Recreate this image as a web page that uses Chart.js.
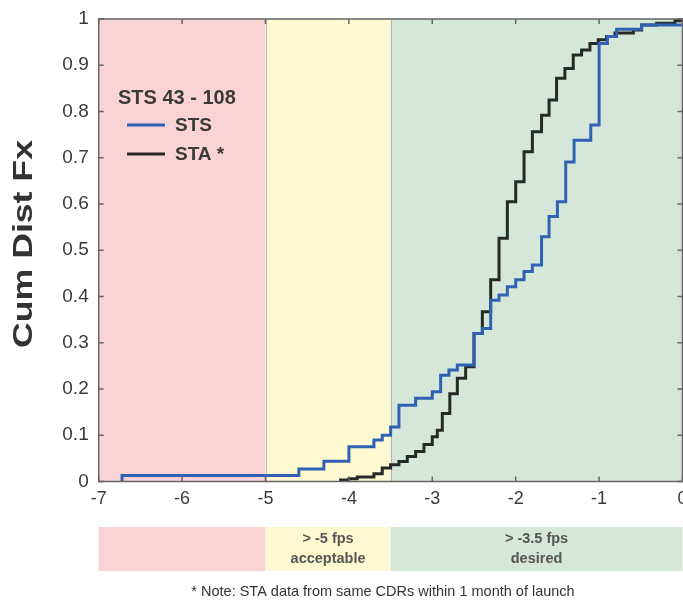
<!DOCTYPE html>
<html>
<head>
<meta charset="utf-8">
<script src="https://cdn.jsdelivr.net/npm/chart.js@4.4.0/dist/chart.umd.min.js"></script>
<style>
  html, body { margin: 0; padding: 0; background: #fff; }
</style>
</head>
<body>
<canvas id="cdfChart" width="683" height="600"></canvas>
<script>
// STS (blue) cumulative distribution steps
const stsX = [-6.72, -6.72, -4.6, -4.3, -4.0, -3.7, -3.6, -3.5, -3.4, -3.2, -3.0, -2.9, -2.8, -2.7,
              -2.5, -2.4, -2.3, -2.2, -2.1, -2.0, -1.9, -1.8, -1.69, -1.6, -1.5, -1.4, -1.3, -1.1,
              -1.0, -0.9, -0.79, -0.49, 0];
const stsY = [0, 0.013, 0.027, 0.044, 0.075, 0.09, 0.10, 0.118, 0.165, 0.18, 0.194, 0.23, 0.241, 0.252,
              0.32, 0.331, 0.392, 0.403, 0.421, 0.436, 0.454, 0.468, 0.529, 0.573, 0.605, 0.691, 0.738, 0.771,
              0.947, 0.962, 0.978, 0.987, 0.987];

// STA (black) cumulative distribution steps
const staX = [-4.1, -4.1, -4.0, -3.9, -3.7, -3.6, -3.5, -3.4, -3.3, -3.2, -3.1, -3.0, -2.94, -2.88,
              -2.79, -2.7, -2.6, -2.5, -2.4, -2.3, -2.2, -2.1, -2.0, -1.9, -1.8, -1.69, -1.6, -1.51,
              -1.41, -1.31, -1.21, -1.11, -1.01, -0.91, -0.81, -0.59, -0.49, -0.31, -0.09, 0];
const staY = [0, 0.003, 0.006, 0.01, 0.017, 0.029, 0.036, 0.043, 0.054, 0.065, 0.08, 0.097, 0.111, 0.147,
              0.19, 0.223, 0.248, 0.32, 0.367, 0.436, 0.526, 0.605, 0.648, 0.713, 0.756, 0.792, 0.825, 0.872,
              0.893, 0.922, 0.933, 0.947, 0.955, 0.962, 0.97, 0.976, 0.987, 0.991, 0.996, 1.0];

// shaded zones: edges on the x axis
const zoneEdges = [-7, -5, -3.5, 0];
const zoneColors = ['#f9d3d5', '#fff9d1', '#d5e7d9'];
const zoneLabels = [[], ['> -5 fps', 'acceptable'], ['> -3.5 fps', 'desired']];

const xTicks = [-7, -6, -5, -4, -3, -2, -1, 0];
const yTicks = [0, 0.1, 0.2, 0.3, 0.4, 0.5, 0.6, 0.7, 0.8, 0.9, 1];

const yTitle = 'Cum Dist Fx';
const legendTitle = 'STS 43 - 108';
const footNote = '* Note: STA data from same CDRs within 1 month of launch';

const FONT = '"Liberation Sans", Arial, sans-serif';

function toPoints(xs, ys) {
    return xs.map((x, i) => ({ x: x, y: ys[i] }));
}

const zonePlugin = {
    id: 'zones',
    beforeDraw(chart) {
        const ctx = chart.ctx;
        const xs = chart.scales.x;
        const area = chart.chartArea;
        ctx.save();
        for (let i = 0; i < zoneColors.length; i++) {
            const x0 = xs.getPixelForValue(zoneEdges[i]);
            const x1 = xs.getPixelForValue(zoneEdges[i + 1]);
            ctx.fillStyle = zoneColors[i];
            ctx.fillRect(x0, area.top, x1 - x0, area.bottom - area.top);
            // band under the axis
            ctx.fillRect(x0, 527, x1 - x0, 44);
            ctx.fillStyle = '#555';
            ctx.font = 'bold 14.5px ' + FONT;
            ctx.textAlign = 'center';
            ctx.textBaseline = 'middle';
            zoneLabels[i].forEach((t, k) => ctx.fillText(t, (x0 + x1) / 2, 539 + k * 20));
        }
        // zone borders
        ctx.strokeStyle = '#bcb6a8';
        ctx.lineWidth = 1;
        [zoneEdges[1], zoneEdges[2]].forEach(v => {
            const px = Math.round(xs.getPixelForValue(v)) + 0.5;
            ctx.beginPath();
            ctx.moveTo(px, area.top);
            ctx.lineTo(px, area.bottom);
            ctx.stroke();
        });
        ctx.fillStyle = '#333';
        ctx.font = '14.5px ' + FONT;
        ctx.fillText(footNote, 383, 592);

        // y axis title, stretched along its length like the original
        ctx.translate(25, 244);
        ctx.rotate(-Math.PI / 2);
        ctx.scale(1.32, 1);
        ctx.fillStyle = '#333';
        ctx.font = 'bold 27px ' + FONT;
        ctx.fillText(yTitle, 0, 0);
        ctx.restore();
    },
    afterDraw(chart) {
        const ctx = chart.ctx;
        const xs = chart.scales.x, ys = chart.scales.y;
        const a = chart.chartArea;
        ctx.save();
        ctx.strokeStyle = '#666';
        ctx.lineWidth = 1.5;
        ctx.strokeRect(a.left, a.top, a.right - a.left, a.bottom - a.top);
        ctx.beginPath();
        xTicks.forEach(v => {
            const px = xs.getPixelForValue(v);
            ctx.moveTo(px, a.bottom); ctx.lineTo(px, a.bottom - 5);
            ctx.moveTo(px, a.top); ctx.lineTo(px, a.top + 5);
        });
        yTicks.forEach(v => {
            const py = ys.getPixelForValue(v);
            ctx.moveTo(a.left, py); ctx.lineTo(a.left + 5, py);
            ctx.moveTo(a.right, py); ctx.lineTo(a.right - 5, py);
        });
        ctx.stroke();

        // legend
        ctx.fillStyle = '#3a3a3a';
        ctx.textAlign = 'left';
        ctx.textBaseline = 'middle';
        ctx.font = 'bold 20px ' + FONT;
        ctx.fillText(legendTitle, 118, 98);
        ctx.font = 'bold 19px ' + FONT;
        chart.data.datasets.forEach((ds, i) => {
            const y = 125 + i * 29;
            ctx.strokeStyle = ds.borderColor;
            ctx.lineWidth = 3;
            ctx.beginPath();
            ctx.moveTo(127, y); ctx.lineTo(165, y);
            ctx.stroke();
            ctx.fillText(ds.label, 175, y + 1);
        });
        ctx.restore();
    }
};

new Chart(document.getElementById('cdfChart').getContext('2d'), {
    type: 'scatter',
    data: {
        datasets: [{
            label: 'STS',
            data: toPoints(stsX, stsY),
            showLine: true,
            stepped: 'before',
            borderColor: '#2f62b3',
            borderWidth: 3,
            pointRadius: 0
        }, {
            label: 'STA *',
            data: toPoints(staX, staY),
            showLine: true,
            stepped: 'before',
            borderColor: '#262a26',
            borderWidth: 3,
            pointRadius: 0
        }]
    },
    options: {
        responsive: false,
        animation: false,
        layout: { padding: { top: 19, right: 0.5, left: 0, bottom: 0 } },
        plugins: {
            legend: { display: false },
            tooltip: { enabled: false }
        },
        scales: {
            x: {
                type: 'linear',
                min: -7,
                max: 0,
                afterFit: s => { s.height = 118.5; s.paddingLeft = 0; s.paddingRight = 0; },
                afterBuildTicks: s => { s.ticks = xTicks.map(v => ({ value: v })); },
                grid: { display: false, drawTicks: false },
                border: { display: false },
                ticks: {
                    padding: 7,
                    color: '#3a3a3a',
                    font: { size: 18, family: FONT },
                    maxRotation: 0
                }
            },
            y: {
                min: 0,
                max: 1,
                afterFit: s => { s.width = 98.7; s.paddingTop = 0; s.paddingBottom = 0; },
                afterBuildTicks: s => { s.ticks = yTicks.map(v => ({ value: v })); },
                grid: { display: false, drawTicks: false },
                border: { display: false },
                ticks: {
                    padding: 10,
                    color: '#3a3a3a',
                    font: { size: 19, family: FONT },
                    callback: v => String(+v.toFixed(1))
                }
            }
        }
    },
    plugins: [zonePlugin]
});
</script>
</body>
</html>
